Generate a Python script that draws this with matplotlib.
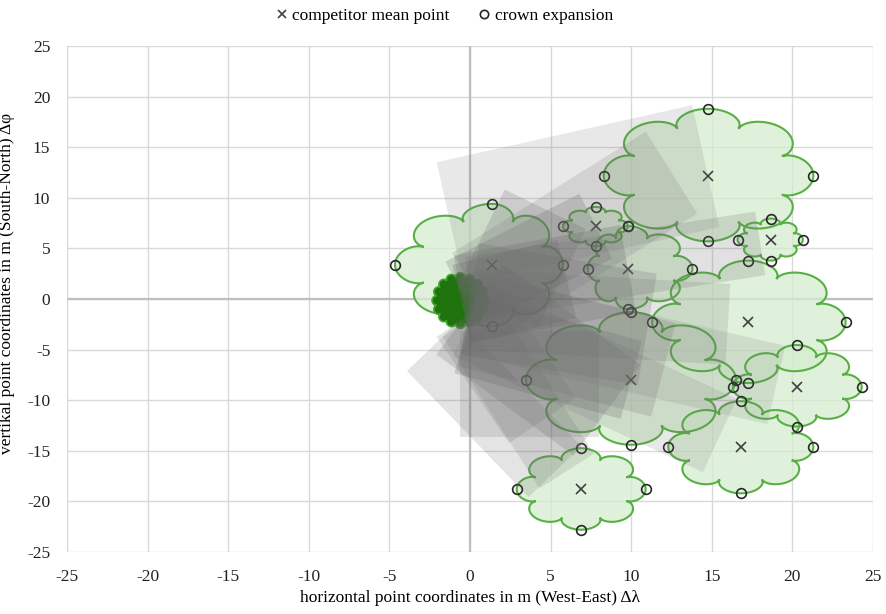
import numpy as np
import matplotlib.pyplot as plt
from matplotlib.patches import Polygon
from matplotlib.lines import Line2D

plt.rcParams['font.family'] = ['Liberation Serif', 'DejaVu Serif']
plt.rcParams['axes.unicode_minus'] = False

# competitor mean points
mean_x = [14.75, 1.36, 7.8, 9.8, 18.66, 17.25, 9.98, 20.27, 16.8, 6.88]
mean_y = [12.2, 3.4, 7.2, 3.0, 5.87, -2.3, -8.0, -8.7, -14.6, -18.8]
# crown expansion (west, east, north, south)
crown_w = [8.3, -4.65, 5.77, 7.3, 16.6, 11.3, 3.47, 16.3, 12.3, 2.9]
crown_e = [21.3, 5.77, 9.8, 13.8, 20.65, 23.3, 16.5, 24.3, 21.3, 10.9]
crown_n = [18.8, 9.4, 9.1, 7.2, 7.95, 3.8, -1.3, -4.55, -10.1, -14.75]
crown_s = [5.7, -2.7, 5.2, -1.0, 3.8, -8.3, -14.4, -12.6, -19.2, -22.8]

# focal tree crown
focal_x, focal_y = -0.6, -0.15
focal_w, focal_e, focal_n, focal_s = -2.35, 1.2, 2.6, -2.9

# grey shading bands: start, end, width, alpha
shade_x0 = [-1.22, -2.27, -0.5, -0.5, 1.69, 0.0, 0.5, -0.6, -0.3, 0.0, 0.0, 0.0, 0.0,
            0.0, 0.0, -0.5, 0.0, 0.0]
shade_y0 = [7.49, -4.6, 0.5, 0.0, -0.92, 1.0, 0.5, -8.4, -3.5, -1.0, -1.5, -2.0, -2.0,
            -1.0, 0.0, -0.5, -1.5, -2.0]
shade_x1 = [14.63, 5.27, 7.8, 9.8, 4.67, 18.0, 12.5, 8.0, 10.0, 16.0, 19.0, 15.5, 6.0,
            8.5, 11.0, 6.0, 4.5, 12.0]
shade_y1 = [13.14, -17.06, 7.2, 3.0, 8.87, 5.5, 12.5, -8.4, -8.0, -2.5, -8.5, -13.5, -17.0,
            -11.0, -3.0, 2.0, -12.0, -7.0]
shade_wd = [7.75, 4.54, 4.5, 5.5, 5.6, 4.0, 6.0, 6.6, 5.0, 5.0, 5.0, 5.0, 4.0,
            7.0, 7.0, 5.0, 5.0, 6.0]
shade_al = [0.15, 0.18, 0.24, 0.26, 0.22, 0.2, 0.17, 0.18, 0.25, 0.17, 0.14, 0.15, 0.17,
            0.22, 0.22, 0.28, 0.18, 0.2]

fig = plt.figure(figsize=(8.86, 6.14), dpi=100)
ax = fig.add_axes([0.0756, 0.101, 0.9097, 0.824])
ax.set_xlim(-25, 25)
ax.set_ylim(-25, 25)

# display aspect (y unit in px / x unit in px)
pos = ax.get_position()
k = (pos.height * 6.14) / (pos.width * 8.86)


def cloud(cx, cy, w, e, n, s, bumps=4, depth=0.24):
    th = np.linspace(0, 2 * np.pi, 721)
    r = 1 - depth + depth * np.sqrt(np.abs(np.cos(bumps * th)))
    c = np.cos(th) * r
    sn = np.sin(th) * r
    xs = cx + np.where(c > 0, c * (e - cx), c * (cx - w))
    ys = cy + np.where(sn > 0, sn * (n - cy), sn * (cy - s))
    return np.column_stack([xs, ys])


for i in range(len(mean_x)):
    pts = cloud(mean_x[i], mean_y[i], crown_w[i], crown_e[i], crown_n[i], crown_s[i])
    ax.add_patch(Polygon(pts, closed=True, facecolor='#d5edce', alpha=0.75,
                         edgecolor='none', zorder=2))
    ax.add_patch(Polygon(pts, closed=True, facecolor='none',
                         edgecolor='#58b045', lw=1.5, zorder=2.1))

pts = cloud(focal_x, focal_y, focal_w, focal_e, focal_n, focal_s, bumps=8, depth=0.15)
ax.add_patch(Polygon(pts, closed=True, facecolor='#1f730d', edgecolor='#3da82a',
                     lw=1.2, zorder=2.5))

ax.plot(mean_x, mean_y, 'x', color='#404040', ms=7, mew=1.2, zorder=2.8)
cx = crown_w + crown_e + mean_x + mean_x
cy = mean_y + mean_y + crown_n + crown_s
ax.plot(cx, cy, 'o', mfc='none', mec='#262626', ms=7, mew=1.2, zorder=2.8)

for i in range(len(shade_x0)):
    u0, v0 = shade_x0[i], shade_y0[i] * k
    u1, v1 = shade_x1[i], shade_y1[i] * k
    d = np.array([u1 - u0, v1 - v0])
    d = d / np.hypot(*d)
    p = np.array([-d[1], d[0]]) * shade_wd[i] / 2
    c = np.array([[u0, v0] + p, [u1, v1] + p, [u1, v1] - p, [u0, v0] - p])
    c[:, 1] = c[:, 1] / k
    ax.add_patch(Polygon(c, closed=True, facecolor='#6a6a6a', alpha=shade_al[i],
                         edgecolor='none', zorder=3))

ax.set_xticks(np.arange(-25, 26, 5))
ax.set_yticks(np.arange(-25, 26, 5))
ax.grid(True, color='#d9d9d9', lw=1)
ax.set_axisbelow(True)
ax.axhline(0, color='#bfbfbf', lw=1.6, zorder=1)
ax.axvline(0, color='#bfbfbf', lw=1.6, zorder=1)
for sp in ax.spines.values():
    sp.set_visible(False)
ax.tick_params(length=0, labelsize=12.5, pad=12, colors='#222222')
ax.set_xlabel('horizontal point coordinates in m (West-East) Δλ', fontsize=12.5, labelpad=4)
ax.set_ylabel('vertikal point coordinates in m (South-North) Δφ', fontsize=12.5, labelpad=6)
ax.yaxis.set_label_coords(-0.065, 0.53)

handles = [Line2D([], [], ls='none', marker='x', color='#404040', ms=6, mew=1.2),
           Line2D([], [], ls='none', marker='o', mfc='none', mec='#262626', ms=6, mew=1.2)]
fig.legend(handles, ['competitor mean point', 'crown expansion'], loc='upper center',
           bbox_to_anchor=(0.5, 1.012), ncol=2, frameon=False, fontsize=12.5,
           handletextpad=0.1, columnspacing=1.5, handlelength=1)

fig.savefig('out.png', dpi=100)
